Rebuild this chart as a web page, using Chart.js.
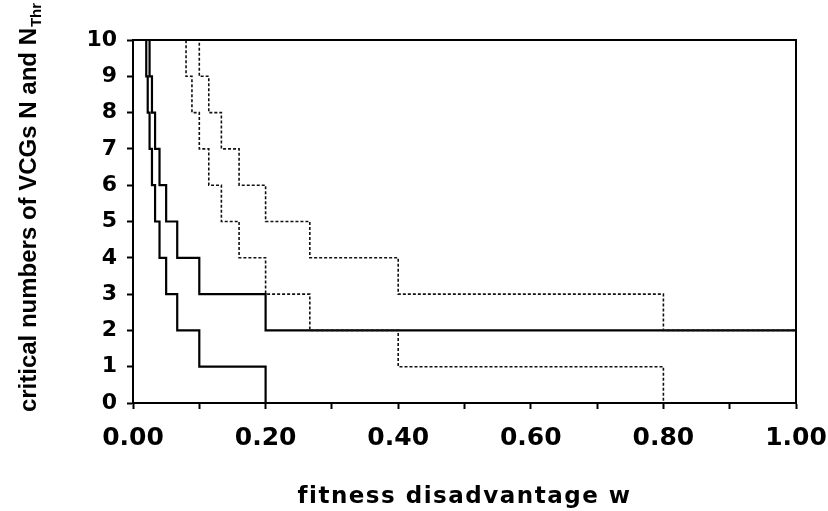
<!DOCTYPE html>
<html>
<head>
<meta charset="utf-8">
<title>critical numbers of VCGs</title>
<script src="https://cdn.jsdelivr.net/npm/chart.js@4.4.1/dist/chart.umd.min.js"></script>
<style>
  html, body { margin: 0; padding: 0; background: #fff; }
  #chart { display: block; }
</style>
</head>
<body>
<canvas id="chart" width="828" height="511"></canvas>
<script>
// Step breakpoints: level n[i] holds from w[i] to w[i+1]
const wSolidLow = [0.0182, 0.0200, 0.0222, 0.0250, 0.0286, 0.0333, 0.0400, 0.0500, 0.0667, 0.1000, 0.2000];
const nSolidLow = [10, 9, 8, 7, 6, 5, 4, 3, 2, 1, 0];
const wSolidHigh = [0.0222, 0.0250, 0.0286, 0.0333, 0.0400, 0.0500, 0.0667, 0.1000, 0.2000, 1.0000];
const nSolidHigh = [10, 9, 8, 7, 6, 5, 4, 3, 2, 2];
const wDotLow = [0.0727, 0.0800, 0.0889, 0.1000, 0.1143, 0.1333, 0.1600, 0.2000, 0.2667, 0.4000, 0.8000];
const nDotLow = [10, 9, 8, 7, 6, 5, 4, 3, 2, 1, 0];
const wDotHigh = [0.0889, 0.1000, 0.1143, 0.1333, 0.1600, 0.2000, 0.2667, 0.4000, 0.8000, 1.0000];
const nDotHigh = [10, 9, 8, 7, 6, 5, 4, 3, 2, 2];

// Axis ticks
const xTickValues = [0.0, 0.1, 0.2, 0.3, 0.4, 0.5, 0.6, 0.7, 0.8, 0.9, 1.0];
const xTickLabels = ['0.00', '', '0.20', '', '0.40', '', '0.60', '', '0.80', '', '1.00'];
const yTickValues = [0, 1, 2, 3, 4, 5, 6, 7, 8, 9, 10];
const yTickLabels = ['0', '1', '2', '3', '4', '5', '6', '7', '8', '9', '10'];

const xTitle = 'fitness disadvantage w';
const yTitle = 'critical numbers of VCGs N and N';
const yTitleSub = 'Thr';

// turn breakpoints into corner points so the line draws as steps
function stepPoints(ws, ns) {
    const pts = [];
    for (let i = 0; i < ws.length; i++) {
        pts.push({ x: ws[i], y: ns[i] });
        if (i + 1 < ws.length) {
            pts.push({ x: ws[i + 1], y: ns[i] });
        }
    }
    return pts;
}

function dotted(ws, ns) {
    return {
        data: stepPoints(ws, ns),
        borderColor: '#111',
        borderWidth: 1.6,
        borderDash: [3, 2],
        pointRadius: 0,
        tension: 0
    };
}

function solid(ws, ns) {
    return {
        data: stepPoints(ws, ns),
        borderColor: '#000',
        borderWidth: 2.2,
        pointRadius: 0,
        tension: 0
    };
}

// box round the plot area
const framePlugin = {
    id: 'frame',
    afterDatasetsDraw(chart) {
        const { ctx, chartArea } = chart;
        ctx.save();
        ctx.strokeStyle = '#000';
        ctx.lineWidth = 2;
        ctx.strokeRect(chartArea.left, chartArea.top, chartArea.right - chartArea.left, chartArea.bottom - chartArea.top);
        ctx.restore();
    }
};

// axis titles (y title needs a subscript)
const titlePlugin = {
    id: 'titles',
    afterDraw(chart) {
        const { ctx, chartArea } = chart;
        ctx.save();
        ctx.fillStyle = '#000';
        ctx.textBaseline = 'alphabetic';

        ctx.font = 'bold 23px "DejaVu Sans", sans-serif';
        ctx.letterSpacing = '1.5px';
        ctx.textAlign = 'center';
        ctx.fillText(xTitle, (chartArea.left + chartArea.right) / 2, 503);
        ctx.letterSpacing = '0px';

        ctx.translate(36, 208);
        ctx.rotate(-Math.PI / 2);
        ctx.textAlign = 'left';
        ctx.font = 'bold 24px "Liberation Sans", Arial, sans-serif';
        const mainW = ctx.measureText(yTitle).width;
        ctx.font = 'bold 15px "Liberation Sans", Arial, sans-serif';
        const subW = ctx.measureText(yTitleSub).width;
        const start = -(mainW + subW) / 2;
        ctx.font = 'bold 24px "Liberation Sans", Arial, sans-serif';
        ctx.fillText(yTitle, start, 0);
        ctx.font = 'bold 15px "Liberation Sans", Arial, sans-serif';
        ctx.fillText(yTitleSub, start + mainW + 1, 5);
        ctx.restore();
    }
};

const ctx = document.getElementById('chart').getContext('2d');
new Chart(ctx, {
    type: 'line',
    data: {
        datasets: [
            dotted(wDotLow, nDotLow),
            dotted(wDotHigh, nDotHigh),
            solid(wSolidLow, nSolidLow),
            solid(wSolidHigh, nSolidHigh)
        ]
    },
    options: {
        responsive: false,
        animation: false,
        devicePixelRatio: 1,
        layout: { padding: { top: 40, right: 32, left: 0, bottom: 0 } },
        plugins: {
            legend: { display: false },
            tooltip: { enabled: false }
        },
        scales: {
            x: {
                type: 'linear',
                min: 0,
                max: 1,
                afterFit: (scale) => {
                    scale.height = 108;
                    // keep the plot box where the figure has it
                    scale.paddingLeft = 0;
                    scale.paddingRight = 0;
                },
                afterBuildTicks: (scale) => {
                    scale.ticks = xTickValues.map(v => ({ value: v }));
                },
                grid: {
                    drawOnChartArea: false,
                    drawTicks: true,
                    tickLength: 6,
                    tickColor: '#000',
                    tickWidth: 2
                },
                border: { display: true, color: '#000', width: 2 },
                ticks: {
                    autoSkip: false,
                    maxRotation: 0,
                    padding: 14,
                    color: '#000',
                    font: { family: '"DejaVu Sans", sans-serif', size: 25, weight: 'bold' },
                    callback: (value, index) => xTickLabels[index]
                }
            },
            y: {
                type: 'linear',
                min: 0,
                max: 10,
                afterFit: (scale) => {
                    scale.width = 133;
                    scale.paddingTop = 0;
                    scale.paddingBottom = 0;
                },
                afterBuildTicks: (scale) => {
                    scale.ticks = yTickValues.map(v => ({ value: v }));
                },
                grid: {
                    drawOnChartArea: false,
                    drawTicks: true,
                    tickLength: 6,
                    tickColor: '#000',
                    tickWidth: 2
                },
                border: { display: true, color: '#000', width: 2 },
                ticks: {
                    autoSkip: false,
                    padding: 10,
                    color: '#000',
                    font: { family: '"DejaVu Sans", sans-serif', size: 22, weight: 'bold' },
                    callback: (value, index) => yTickLabels[index]
                }
            }
        }
    },
    plugins: [framePlugin, titlePlugin]
});
</script>
</body>
</html>
